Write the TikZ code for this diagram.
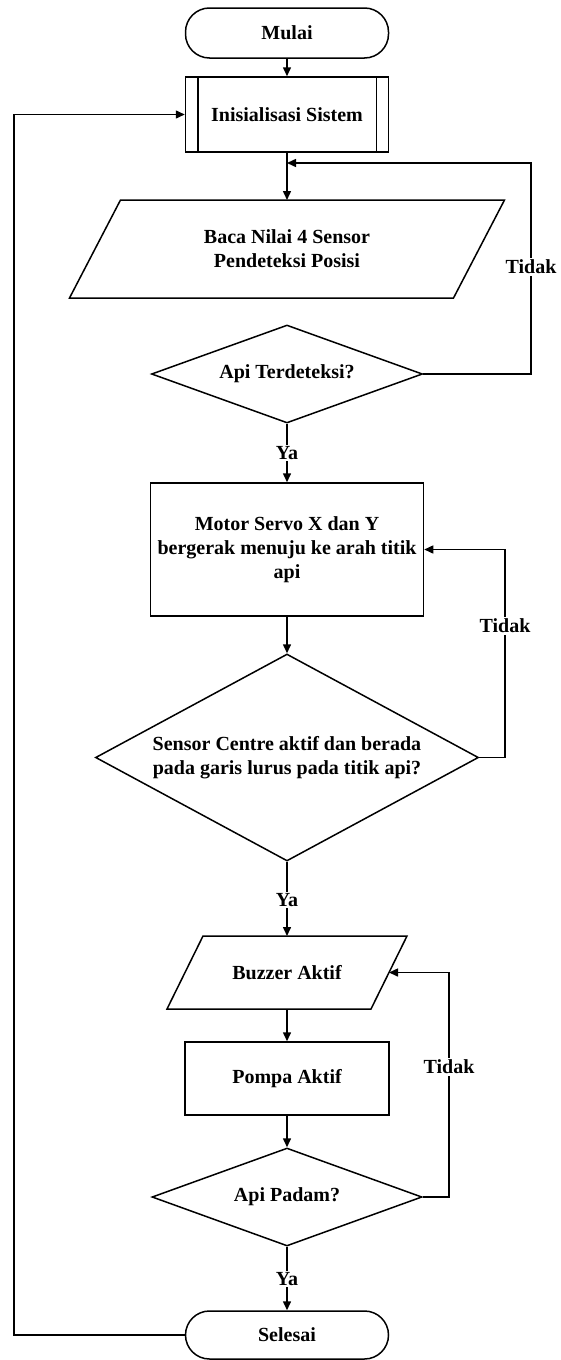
\documentclass[tikz,border=0pt]{standalone}
\usepackage{fontspec}
\setmainfont{Liberation Serif}
\usetikzlibrary{arrows.meta,shapes.geometric,backgrounds}
\begin{document}
\begin{tikzpicture}[x=1pt,y=-1pt,
  font=\fontsize{20}{24}\selectfont\bfseries,
  line width=1.5pt,
  flow/.style={line width=1.5pt,-{Triangle[length=9pt,width=8pt]}},
  term/.style={draw,rounded corners=24pt,minimum width=203pt,minimum height=#1,inner sep=0pt},
  proc/.style={draw,inner sep=2pt,align=center},
  io/.style={rectangle,inner sep=0pt,align=center,outer sep=0pt},
  dec/.style={draw,diamond,inner sep=0pt,align=center},
  lbl/.style={fill=white,inner sep=1.5pt}
]
\useasboundingbox (0,0) rectangle (560,1360);

% main nodes
\node[term=50pt] (mulai) at (287,33) {Mulai};
\node[proc,minimum width=203pt,minimum height=75pt] (init) at (287,114.5) {Inisialisasi Sistem};
\draw ([xshift=13pt]init.north west) -- ([xshift=13pt]init.south west);
\draw ([xshift=-13pt]init.north east) -- ([xshift=-13pt]init.south east);
\coordinate (m1) at (287,163);
\node[io,minimum width=384pt,minimum height=98pt] (baca) at (287,249) {Baca Nilai 4 Sensor\\Pendeteksi Posisi};
\draw ([xshift=25.5pt]baca.north west) -- ([xshift=25.5pt]baca.north east)
  -- ([xshift=-25.5pt]baca.south east) -- ([xshift=-25.5pt]baca.south west) -- cycle;
\node[dec,aspect=2.77,minimum width=271pt,minimum height=98pt] (d1) at (287,374) {Api Terdeteksi?};
\node[proc,minimum width=273pt,minimum height=133pt] (motor) at (287,549.5) {Motor Servo X dan Y\\bergerak menuju ke arah titik\\api};
\node[dec,aspect=1.85,minimum width=383pt,minimum height=207pt] (d2) at (287,757.5) {Sensor Centre aktif dan berada\\pada garis lurus pada titik api?};
\node[io,minimum width=204pt,minimum height=73pt] (buz) at (287,972.5) {Buzzer Aktif};
\draw ([xshift=18pt]buz.north west) -- ([xshift=18pt]buz.north east)
  -- ([xshift=-18pt]buz.south east) -- ([xshift=-18pt]buz.south west) -- cycle;
\node[proc,minimum width=204pt,minimum height=73pt] (pompa) at (287,1078.5) {Pompa Aktif};
\node[dec,aspect=2.75,minimum width=270pt,minimum height=98pt] (d3) at (287,1197) {Api Padam?};
\node[term=48pt] (selesai) at (287,1335) {Selesai};

% labels
\node[lbl] (ya1) at (287,453) {Ya};
\node[lbl] (ya2) at (287,900) {Ya};
\node[lbl] (ya3) at (287,1279) {Ya};
\node[lbl] (t1) at (531,267) {Tidak};
\node[lbl] (t2) at (505,626) {Tidak};
\node[lbl] (t3) at (449,1067) {Tidak};
\coordinate (L) at (14,0);

% connectors
\begin{scope}[on background layer]
\draw[flow] (mulai) -- (init);
\draw[flow] (init) -- (baca);
\draw[flow] (d1.east) -| (t1.center) |- (m1);
\draw[flow] (d1) -- (motor);
\draw[flow] (motor) -- (d2);
\draw[flow] (d2.east) -| (t2.center) |- (motor.east);
\draw[flow] (d2) -- (buz);
\draw[flow] (buz) -- (pompa);
\draw[flow] (pompa) -- (d3);
\draw[flow] (d3.east) -| (t3.center) |- (buz.east);
\draw[flow] (d3) -- (selesai);
\draw[flow] (selesai.west) -- (selesai.west -| L) -- (init.west -| L) -- (init.west);
\end{scope}
\end{tikzpicture}
\end{document}
